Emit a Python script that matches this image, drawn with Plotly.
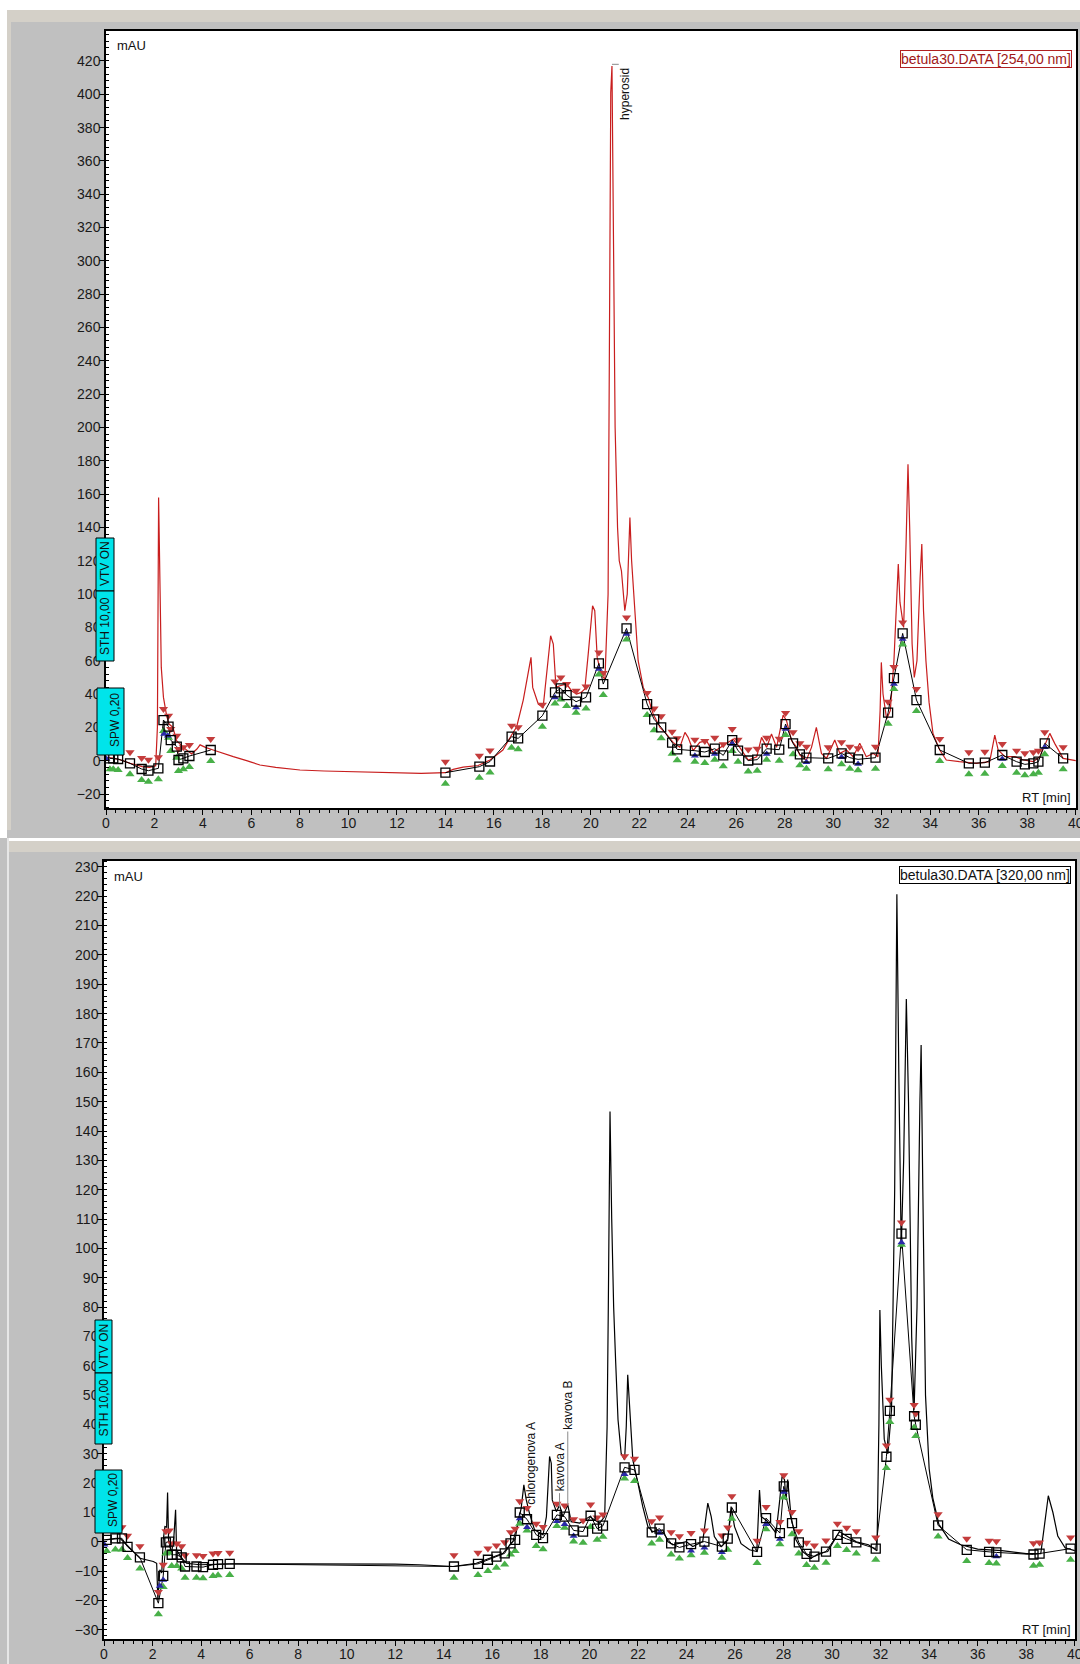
import plotly.graph_objects as go

# ---------------- DATA ----------------
# 254 nm chromatogram (top)
t254 = [0.0, 0.3, 0.6, 1.0, 1.5, 1.8, 2.05, 2.12, 2.17, 2.22, 2.28, 2.37, 2.5, 2.6, 2.76, 2.91, 3.19, 3.53, 3.75, 3.88,
        4.1, 4.42, 4.8, 5.25, 5.8, 6.35, 7.0, 8.0, 9.0, 10.0, 11.0, 12.0, 13.0, 14.0, 14.32, 14.73, 15.35, 15.84, 16.37,
        16.73, 16.94, 17.21, 17.45, 17.53, 17.6, 17.83, 18.03, 18.17, 18.34, 18.45, 18.56, 18.72, 19.0, 19.2, 19.41, 19.6,
        19.75, 19.89, 20.07, 20.16, 20.26, 20.44, 20.58, 20.71, 20.78, 20.82, 20.87, 20.93, 21.0, 21.1, 21.17, 21.26, 21.4,
        21.5, 21.56, 21.61, 21.68, 21.81, 21.95, 22.16, 22.36, 22.57, 22.85, 23.12, 23.39, 23.67, 23.88, 24.01, 24.22,
        24.49, 24.77, 25.04, 25.46, 25.87, 26.14, 26.49, 26.84, 27.04, 27.25, 27.45, 27.66, 27.93, 28.07, 28.28, 28.49,
        28.62, 28.89, 29.1, 29.3, 29.51, 29.72, 30.06, 30.27, 30.54, 30.82, 31.09, 31.36, 31.64, 31.84, 31.93, 31.98,
        32.05, 32.2, 32.35, 32.5, 32.62, 32.68, 32.75, 32.9, 33.0, 33.08, 33.15, 33.25, 33.34, 33.45, 33.58, 33.65, 33.72,
        33.82, 33.95, 34.11, 34.39, 34.66, 35.2, 35.9, 36.45, 36.66, 36.8, 37.08, 37.49, 37.84, 38.25, 38.52, 38.93,
        39.13, 39.48, 39.9, 40.0]
a254 = [2, 1.5, 0.5, -1.6, -3.6, -4, -3, 20, 158, 100, 56, 38, 27, 22, 20, 12, 8, 4, 7, 9.5,
        8, 6.4, 4.5, 2.4, 0, -2.6, -4, -5.6, -6.2, -6.5, -6.8, -7.0, -7.6, -7.2, -5.2, -3.9, -2.9, 0.4, 6.4,
        15.4, 20.4, 36.4, 55, 62, 44, 34, 32, 50, 75, 70, 44, 45, 46, 42, 40, 41,
        43, 64, 93, 90, 62, 51, 49, 100, 250, 401, 417, 330, 200, 140, 120, 114, 90,
        100, 130, 146, 120, 90, 60, 44, 38, 28, 20, 16, 11, 8, 17, 14, 6,
        11, 12, 5, 9, 13, 8, 0.4, 2.4, 14, 8, 16, 8, 27.4, 24, 12, 8,
        3.4, 0.4, 8, 20, 4.4, 1.4, 12.4, 4.4, 6.4, 2.4, 10.4, 2.4, 4.4, 2.4, 30, 59,
        40, 25, 30, 60, 100, 118, 95, 80, 130, 178, 140, 70, 50, 60, 110, 130, 90,
        60, 35, 16.4, 6.4, 0.4, -0.6, -1.6, -0.6, 15.4, 6.4, 2.4, 2.4, 0.4, -0.6, 2.4, 16.4,
        10.4, 1.4, 0.4, 0]

# 320 nm chromatogram (bottom)
t320 = [0.0, 0.3, 0.66, 0.93, 1.48, 2.03, 2.17, 2.22, 2.26, 2.3, 2.38, 2.44, 2.51, 2.58, 2.62, 2.66, 2.78, 2.88, 2.95,
        2.99, 3.2, 3.4, 3.95, 4.78, 5.32, 8.0, 10.0, 12.0, 13.0, 14.38, 15.34, 15.89, 16.44, 16.85, 17.06, 17.19, 17.3,
        17.4, 17.53, 17.74, 18.09, 18.23, 18.34, 18.36, 18.43, 18.47, 18.64, 18.77, 18.91, 19.11, 19.25, 19.6, 20.01,
        20.42, 20.63, 20.73, 20.78, 20.85, 20.92, 21.0, 21.08, 21.18, 21.31, 21.45, 21.52, 21.58, 21.63, 21.68, 21.79,
        22.0, 22.2, 22.41, 22.61, 23.03, 23.23, 23.44, 23.99, 24.26, 24.67, 24.88, 25.02, 25.15, 25.43, 25.7, 25.84,
        25.98, 26.25, 26.6, 26.9, 27.01, 27.08, 27.29, 27.49, 27.69, 27.83, 27.94, 28.04, 28.1, 28.17, 28.31, 28.51,
        28.79, 29.13, 29.47, 29.82, 30.09, 30.3, 30.6, 31.0, 31.5, 31.85, 31.93, 31.97, 32.03, 32.15, 32.3, 32.45, 32.58,
        32.67, 32.75, 32.85, 32.95, 33.06, 33.15, 33.28, 33.38, 33.5, 33.62, 33.67, 33.74, 33.85, 34.0, 34.15, 34.4,
        34.8, 35.3, 36.0, 37.0, 38.0, 38.6, 38.75, 38.91, 39.1, 39.3, 39.6, 40.0]
a320 = [0.7, 1.0, 1.2, -1, -5.6, -6.7, -7.3, -19.8, -12, -9.5, -10.6, 0.7, 5.2, 5, 16.8, 0.7, -3.9, 1.8, 10.9,
        -2.7, -5.6, -7.3, -7.8, -7.6, -7.5, -7.5, -7.5, -7.6, -7.8, -8.4, -7.3, -5.6, -3.9, 0.1, 6.4, 11.5, 19.4,
        14.3, 9.8, 4.1, 2.4, 8.6, 25, 29.1, 26.8, 14.3, 10.3, 12.5, 8.6, 12.6, 6.9, 6.4, 8.6,
        6.4, 8.6, 39, 80, 146.6, 110, 80, 62, 41.6, 30.2, 27.9, 39.3, 56.9, 50, 43.8, 27.9,
        20, 12, 5.2, 3.5, 4.1, 0.1, -1, 0.1, -1.6, 0.1, 13.2, 8.6, 1.8, -1.6, 0.6, 12,
        5.2, -0.6, -2.7, -3.3, 17.7, 8.6, 7.4, 5.2, 3, 13.2, 22.3, 21.2, 14.3, 21.2, 8.6, 0.7,
        -3.3, -5.6, -3.9, -3.3, 0.6, 3.5, 2, 0, -1, -3, 40, 79, 60, 35, 30, 45, 120,
        220.7, 160, 100, 130, 185, 150, 70, 45, 80, 150, 169.3, 120, 50, 25, 15, 6,
        1, -1, -2.5, -3, -4, -4, 5, 15.7, 10, 2, -2, -3]

# integration markers (squares)
sq254_t = [0.16, 0.3, 0.5, 0.99, 1.47, 1.75, 2.16, 2.37, 2.58, 2.67, 2.92, 2.99, 3.19, 3.44, 4.32,
           14.0, 15.4, 15.84, 16.73, 17.0, 18.0, 18.52, 18.76, 19.0, 19.39, 19.8, 20.33, 20.51, 21.47, 22.32,
           22.61, 22.9, 23.35, 23.56, 24.29, 24.7, 25.11, 25.46, 25.83, 26.07, 26.49, 26.86, 27.25, 27.77, 28.03,
           28.34, 28.62, 28.89, 29.79, 30.34, 30.68, 31.02, 31.74, 32.26, 32.5, 32.86, 33.43, 34.39, 35.59, 36.25,
           36.97, 37.56, 37.9, 38.25, 38.46, 38.72, 39.48]
sq254_v = [1.4, 1.4, 1, -1.6, -5, -6, -4.6, 24.4, 20.4, 12.4, 8.4, 0.4, 1.4, 2.8, 6.4,
           -7.2, -3.6, -0.5, 14.4, 13.4, 27, 41, 43.4, 39.4, 35.4, 38, 58.4, 46, 79.4, 34,
           24.8, 20, 10.8, 6.8, 6, 5.2, 7.2, 3.2, 12.4, 6, 0.1, 0.6, 7.2, 6.6, 22,
           10.4, 3.8, 1.8, 1.4, 4.4, 1.8, 0.8, 1.8, 28.8, 49.6, 76.4, 36.4, 6.4, -1.6, -1.2,
           3.4, -0.6, -2.2, -1.6, -0.6, 10.4, 1.4]
sq320_t = [0.11, 0.47, 0.74, 0.97, 1.48, 2.24, 2.44, 2.55, 2.69, 2.79, 3.0, 3.2, 3.34, 3.81, 4.08, 4.49, 4.7, 5.18,
           14.42, 15.41, 15.82, 16.17, 16.51, 16.75, 16.94, 17.13, 17.43, 17.81, 18.09, 18.66, 18.98, 19.35, 19.74,
           20.05, 20.32, 20.56, 21.45, 21.86, 22.57, 22.89, 23.37, 23.71, 24.19, 24.74, 25.46, 25.7, 25.87, 26.91,
           27.28, 27.85, 28.01, 28.35, 28.63, 28.95, 29.27, 29.75, 30.22, 30.6, 31.0, 31.8, 32.24, 32.38, 32.86,
           33.38, 33.45, 34.37, 35.55, 36.47, 36.77, 38.3, 38.55, 39.83]
sq320_v = [0.7, 1.2, 1.2, -1.7, -5.3, -20.9, -11.6, -0.2, 0.1, -4.4, -4.4, -5.3, -8.4, -8.4, -8.6, -7.8, -7.6, -7.5,
           -8.4, -7.5, -6.1, -5, -3.9, -0.5, 0.7, 10, 7.7, 2.4, 1.3, 9.2, 8.6, 3.9, 3.5,
           8.9, 4.5, 5.5, 25.4, 24.5, 3.2, 4.5, -0.5, -1.9, -0.8, 0.1, -1.6, 1.1, 11.7, -3.4,
           8.1, 3, 18.9, 6.4, -0.2, -4.1, -5, -3.3, 2.4, 1, -0.2, -2.3, 29, 44.6, 105,
           42.8, 39.9, 5.6, -2.7, -3.4, -3.6, -4.3, -4, -2.3]

blue254_t = [0.02, 2.4, 2.55, 18.52, 19.39, 20.33, 21.47, 24.29, 25.11, 25.83, 27.25, 28.03, 28.89, 30.34, 31.02, 32.5, 32.86, 36.97, 38.72]
blue254_v = [1, 16, 15, 38, 32, 55, 76, 3, 4, 10, 4, 19, -1, 2, -2, 46, 73, 1, 8]
blue320_t = [0.02, 2.3, 2.44, 17.13, 17.43, 18.66, 18.98, 19.35, 21.45, 22.89, 24.19, 24.74, 25.46, 27.28, 27.85, 28.01, 32.86, 36.77]
blue320_v = [-1, -15, -13, 8, 5, 7, 6, 2, 23, 3, -3, -2, -3.5, 6, 1, 17, 102, -5]

peak_labels_320 = ["chlorogenova A", "kavova A", "kavova B"]
peak_t_320 = [17.58, 18.77, 19.11]
peak_base_320 = [12.0, 16.6, 37.6]
peak_foot_320 = [None, 11.5, 12.6]

# ---------------- STYLE ----------------
W, H = 1080, 1664
FONT = "Liberation Sans, Arial, sans-serif"
RED_TR = "#c81e1e"
MK_RED = "#c43c3c"
MK_GREEN = "#48b048"
MK_BLUE = "#2a2aa8"
CYAN = "#00e4ea"


def px(x):
    return x / W


def py(y):
    return 1 - y / H


top_dom_x = [px(106), px(1076)]
top_dom_y = [py(808), py(31)]
bot_dom_x = [px(104), px(1075)]
bot_dom_y = [py(1639), py(861)]

# marker offsets (data units) per panel (~11 px)
OFF_TOP = 6.6
OFF_BOT = 3.8


def gapped(ts, vs, break_gaps):
    xs, ys = [], []
    for i, (t, v) in enumerate(zip(ts, vs)):
        if break_gaps and i > 0 and t - ts[i - 1] > 5:
            xs.append(None)
            ys.append(None)
        xs.append(t)
        ys.append(v)
    return xs, ys


fig = go.Figure()


def add_panel(xa, ya, tt, aa, color, sq_t, sq_v, bl_t, bl_v, off, break_gaps):
    fig.add_trace(go.Scatter(x=tt, y=aa, mode="lines", line=dict(color=color, width=1.2),
                             xaxis=xa, yaxis=ya, hoverinfo="skip"))
    lx, ly = gapped(sq_t, sq_v, break_gaps)
    fig.add_trace(go.Scatter(x=lx, y=ly, mode="lines", line=dict(color="black", width=1),
                             connectgaps=False, xaxis=xa, yaxis=ya, hoverinfo="skip"))
    fig.add_trace(go.Scatter(x=sq_t, y=[v + off for v in sq_v], mode="markers",
                             marker=dict(symbol="triangle-down", size=8, color=MK_RED),
                             xaxis=xa, yaxis=ya, hoverinfo="skip"))
    fig.add_trace(go.Scatter(x=sq_t, y=[v - off for v in sq_v], mode="markers",
                             marker=dict(symbol="triangle-up", size=8, color=MK_GREEN),
                             xaxis=xa, yaxis=ya, hoverinfo="skip"))
    fig.add_trace(go.Scatter(x=bl_t, y=bl_v, mode="markers",
                             marker=dict(symbol="triangle-up", size=7, color=MK_BLUE),
                             xaxis=xa, yaxis=ya, hoverinfo="skip"))
    fig.add_trace(go.Scatter(x=sq_t, y=sq_v, mode="markers",
                             marker=dict(symbol="square-open", size=9, color="black", line=dict(width=1.3)),
                             xaxis=xa, yaxis=ya, hoverinfo="skip"))


add_panel("x", "y", t254, a254, RED_TR, sq254_t, sq254_v, blue254_t, blue254_v, OFF_TOP, True)
add_panel("x2", "y2", t320, a320, "black", sq320_t, sq320_v, blue320_t, blue320_v, OFF_BOT, False)

tickfont = dict(family=FONT, size=14, color="#1a1a1a")
xax = dict(range=[0, 40.01], tick0=0, dtick=2, ticks="outside", ticklen=5, tickwidth=1, tickcolor="black",
           showline=True, linecolor="black", linewidth=1.5, mirror=True, showgrid=False, zeroline=False,
           tickfont=tickfont, automargin=False, ticklabelstandoff=-4, ticklabeloverflow="allow",
           minor=dict(dtick=0.4, ticks="outside", ticklen=3, tickcolor="black", showgrid=False))


def yax(rng, dt, mdt, dom):
    return dict(range=rng, tick0=0, dtick=dt, ticks="outside", ticklen=5, tickwidth=1, tickcolor="black",
                showline=True, linecolor="black", linewidth=1.5, mirror=True, showgrid=False, zeroline=False,
                tickfont=tickfont, automargin=False, domain=dom, ticklabelstandoff=-4,
                minor=dict(dtick=mdt, ticks="inside", ticklen=3, tickcolor="black", showgrid=False))


def box(x0, x1, y0, y1):
    return dict(type="rect", xref="paper", yref="paper", x0=px(x0), x1=px(x1), y0=py(y1), y1=py(y0),
                fillcolor=CYAN, line=dict(color="black", width=1), layer="above")


def band(x0, x1, y0, y1, color):
    return dict(type="rect", xref="paper", yref="paper", x0=px(x0), x1=px(x1), y0=py(y1), y1=py(y0),
                fillcolor=color, line_width=0, layer="below")


shapes = [
    band(0, 1080, 0, 10, "white"),
    band(0, 7, 0, 838, "white"),
    band(7, 1080, 10, 22, "#d4d0c8"),
    band(7, 11, 10, 830, "#d4d0c8"),
    band(7, 1080, 838, 841, "white"),
    band(7, 1080, 841, 852, "#d4d0c8"),
    band(7, 9, 838, 1664, "#e6e6e6"),
    box(96, 114, 538, 591), box(96, 114, 591, 661), box(97, 124, 688, 755),
    box(95, 112, 1320, 1373), box(95, 112, 1373, 1444), box(95, 122, 1470, 1533),
    # small leader at the hyperosid label
    dict(type="line", xref="x", yref="y", x0=20.87, x1=21.15, y0=418, y1=418, line=dict(color="#8a8a8a", width=1)),
]
for t, b, f in zip(peak_t_320, peak_base_320, peak_foot_320):
    if f is not None:
        shapes.append(dict(type="line", xref="x2", yref="y2", x0=t, x1=t, y0=f, y1=b, line=dict(color="#8a8a8a", width=1)))

small = dict(family=FONT, size=12, color="#111111")


def boxtext(text, x, y):
    return dict(text=text, xref="paper", yref="paper", x=px(x), y=py(y), xanchor="center", yanchor="middle",
                textangle=-90, showarrow=False, font=small, borderpad=0)


ann = [
    dict(text="mAU", xref="paper", yref="paper", x=px(115), y=py(46), xanchor="left", yanchor="middle", showarrow=False, font=dict(family=FONT, size=13, color="#111")),
    dict(text="mAU", xref="paper", yref="paper", x=px(112), y=py(876), xanchor="left", yanchor="middle", showarrow=False, font=dict(family=FONT, size=13, color="#111")),
    dict(text="RT [min]", xref="paper", yref="paper", x=px(1073), y=py(797), xanchor="right", yanchor="middle", showarrow=False, font=dict(family=FONT, size=13, color="#111")),
    dict(text="RT [min]", xref="paper", yref="paper", x=px(1073), y=py(1629), xanchor="right", yanchor="middle", showarrow=False, font=dict(family=FONT, size=13, color="#111")),
    dict(text="betula30.DATA [254,00 nm]", xref="paper", yref="paper", x=px(1072), y=py(59), xanchor="right", yanchor="middle",
         showarrow=False, font=dict(family=FONT, size=14, color="#a01818"), bordercolor="#b02020", borderwidth=1, borderpad=0, bgcolor="white"),
    dict(text="betula30.DATA [320,00 nm]", xref="paper", yref="paper", x=px(1071), y=py(875), xanchor="right", yanchor="middle",
         showarrow=False, font=dict(family=FONT, size=14, color="#111"), bordercolor="black", borderwidth=1, borderpad=0, bgcolor="white"),
    boxtext("VTV ON", 105, 564), boxtext("STH 10,00", 105, 626), boxtext("SPW 0,20", 115, 720),
    boxtext("VTV ON", 103.5, 1346), boxtext("STH 10,00", 103.5, 1408), boxtext("SPW 0,20", 113, 1500),
    dict(text="hyperosid", xref="x", yref="y", x=20.87, y=417, xanchor="left", yanchor="top", xshift=4,
         textangle=-90, showarrow=False, font=small),
]
for name, t, b in zip(peak_labels_320, peak_t_320, peak_base_320):
    ann.append(dict(text=name, xref="x2", yref="y2", x=t, y=b, xanchor="center", yanchor="bottom",
                    textangle=-90, showarrow=False, font=small))

xtop = dict(xax, domain=top_dom_x, anchor="y")
xbot = dict(xax, domain=bot_dom_x, anchor="y2")
fig.update_layout(
    template="none",
    width=W, height=H, margin=dict(l=0, r=0, t=0, b=0, pad=0),
    paper_bgcolor="#c0c0c0", plot_bgcolor="white", showlegend=False,
    xaxis=xtop, xaxis2=xbot,
    yaxis=dict(yax([-28.4, 438], 20, 4, top_dom_y), anchor="x"),
    yaxis2=dict(yax([-33.1, 232], 10, 2, bot_dom_y), anchor="x2"),
    shapes=shapes, annotations=ann,
)

fig.write_html("out.html", config={"displayModeBar": False},
               post_script="document.body.style.margin='0px';document.body.style.overflow='hidden';")
